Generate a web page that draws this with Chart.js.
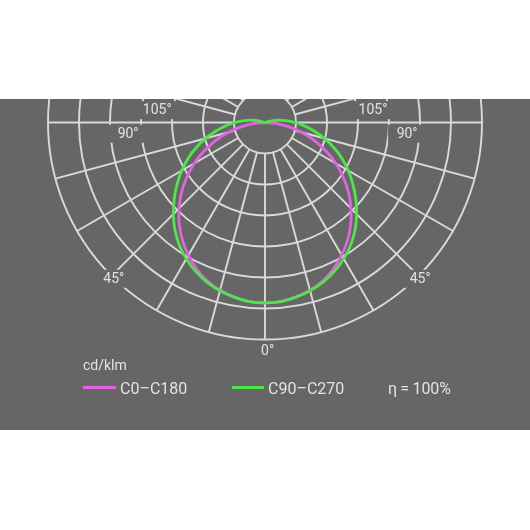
<!DOCTYPE html>
<html>
<head>
<meta charset="utf-8">
<script src="https://cdn.jsdelivr.net/npm/chart.js@4.4.1/dist/chart.umd.min.js"></script>
<style>
  html, body { margin: 0; padding: 0; background: #ffffff; }
  #band { position: absolute; left: 0; top: 99px; width: 530px; height: 331px; background: #666666; }
  canvas { display: block; }
</style>
</head>
<body>
<div id="band"><canvas id="polarChart" width="530" height="331"></canvas></div>
<script>
// gamma angles from nadir (deg), one half of the curve (mirrored for the other side)
const gammaAngles = [0, 5, 10, 15, 20, 25, 30, 35, 40, 45, 50, 55, 60, 65, 70, 75, 80, 85, 90, 95, 100, 105, 110];
// intensities in cd/klm
const c0c180 = [291, 290, 286, 280, 272, 261, 247, 232, 215, 196, 176, 154, 132, 108, 85, 62, 38, 17, 0, 0, 0, 0, 0];
const c90c270 = [291, 290, 286, 281, 274, 265, 254, 241, 226, 209, 191, 173, 155, 137, 118, 99, 81, 64, 48, 34, 21, 9, 0];

const ringValues = [50, 100, 150, 200, 250, 300, 350];
const spokeAngles = [0, 15, 30, 45, 60, 75, 90, 105, 120, 135, 150, 165, 180, 195, 210, 225, 240, 255, 270, 285, 300, 315, 330, 345];
const tickLabels = ['0°', '45°', '90°', '105°'];

const seriesNames = ['C0\u2013C180', 'C90\u2013C270'];
const unitLabel = 'cd/klm';
const effLabel = '\u03b7\u2009=\u2009100%';

const BG = '#666666';
const GRID = '#dadada';
const TEXT = '#e2e2e2';
const PINK = '#e064de';
const GREEN = '#4fe64a';

// where the angle labels sit (data units)
const tickSpots = {
  '0°': [[0, -369]],
  '45°': [[-248, -252], [246, -252]],
  '90°': [[-225, -18], [225, -18]],
  '105°': [[-178, 20], [170, 20]]
};

// pixel per cd/klm and polar centre in the canvas
const pxPerUnit = 31 / 50;
const centreX = 265, centreY = 23.5;
const W = 530, H = 331;

function curvePoints(values) {
  const pts = [];
  for (let i = gammaAngles.length - 1; i >= 0; i--) {
    const g = gammaAngles[i] * Math.PI / 180;
    pts.push({ x: -values[i] * Math.sin(g), y: -values[i] * Math.cos(g) });
  }
  for (let i = 1; i < gammaAngles.length; i++) {
    const g = gammaAngles[i] * Math.PI / 180;
    pts.push({ x: values[i] * Math.sin(g), y: -values[i] * Math.cos(g) });
  }
  return pts;
}

const polarGrid = {
  id: 'polarGrid',
  beforeDatasetsDraw(chart) {
    const ctx = chart.ctx;
    const xs = chart.scales.x, ys = chart.scales.y;
    const cx = xs.getPixelForValue(0), cy = ys.getPixelForValue(0);
    const len = v => xs.getPixelForValue(v) - cx;
    const inner = len(ringValues[0]);
    const outer = len(ringValues[ringValues.length - 1]);

    ctx.save();
    ctx.strokeStyle = GRID;
    ctx.lineWidth = 1.9;
    ringValues.forEach(v => {
      ctx.beginPath();
      ctx.arc(cx, cy, len(v), 0, Math.PI * 2);
      ctx.stroke();
    });
    spokeAngles.forEach(a => {
      const r = a * Math.PI / 180;
      const dx = Math.sin(r), dy = Math.cos(r);
      ctx.beginPath();
      ctx.moveTo(cx + dx * inner, cy + dy * inner);
      ctx.lineTo(cx + dx * outer, cy + dy * outer);
      ctx.stroke();
    });

    // angle labels with a background box that cuts the grid
    ctx.font = '14px Roboto';
    ctx.textBaseline = 'middle';
    ctx.textAlign = 'left';
    tickLabels.forEach(lbl => {
      const num = lbl.replace('°', '');
      const numW = ctx.measureText(num).width;
      const fullW = ctx.measureText(lbl).width;
      (tickSpots[lbl] || []).forEach(([vx, vy]) => {
        const px = xs.getPixelForValue(vx);
        const py = ys.getPixelForValue(vy);
        const left = px - numW / 2;
        ctx.fillStyle = BG;
        ctx.fillRect(left + fullW / 2 - 19, py - 9, 38, 18);
        ctx.fillStyle = TEXT;
        ctx.fillText(lbl, left, py + 0.5);
      });
    });
    ctx.restore();
  },
  afterDraw(chart) {
    const ctx = chart.ctx;
    ctx.save();
    ctx.fillStyle = TEXT;
    ctx.textBaseline = 'alphabetic';
    ctx.textAlign = 'left';
    ctx.font = '14px Roboto';
    ctx.fillText(unitLabel, 83, 271);

    ctx.lineWidth = 3;
    ctx.strokeStyle = PINK;
    ctx.beginPath(); ctx.moveTo(83, 288.5); ctx.lineTo(116, 288.5); ctx.stroke();
    ctx.strokeStyle = GREEN;
    ctx.beginPath(); ctx.moveTo(232, 288.5); ctx.lineTo(264, 288.5); ctx.stroke();

    ctx.font = '16px Roboto';
    ctx.fillText(seriesNames[0], 120, 294.5);
    ctx.fillText(seriesNames[1], 268, 294.5);
    ctx.fillText(effLabel, 388, 294.5);
    ctx.restore();
  }
};

new Chart(document.getElementById('polarChart'), {
  type: 'scatter',
  data: {
    datasets: [
      {
        label: seriesNames[0],
        data: curvePoints(c0c180),
        showLine: true,
        borderColor: PINK,
        borderWidth: 2.8,
        pointRadius: 0,
        tension: 0.3,
        order: 2
      },
      {
        label: seriesNames[1],
        data: curvePoints(c90c270),
        showLine: true,
        borderColor: GREEN,
        borderWidth: 2.8,
        pointRadius: 0,
        tension: 0.3,
        order: 1
      }
    ]
  },
  options: {
    responsive: false,
    animation: false,
    devicePixelRatio: 1,
    layout: { padding: 0 },
    scales: {
      x: { type: 'linear', display: false, min: -centreX / pxPerUnit, max: (W - centreX) / pxPerUnit },
      y: { type: 'linear', display: false, min: -(H - centreY) / pxPerUnit, max: centreY / pxPerUnit }
    },
    plugins: {
      legend: { display: false },
      tooltip: { enabled: false }
    }
  },
  plugins: [polarGrid]
});
</script>
</body>
</html>
